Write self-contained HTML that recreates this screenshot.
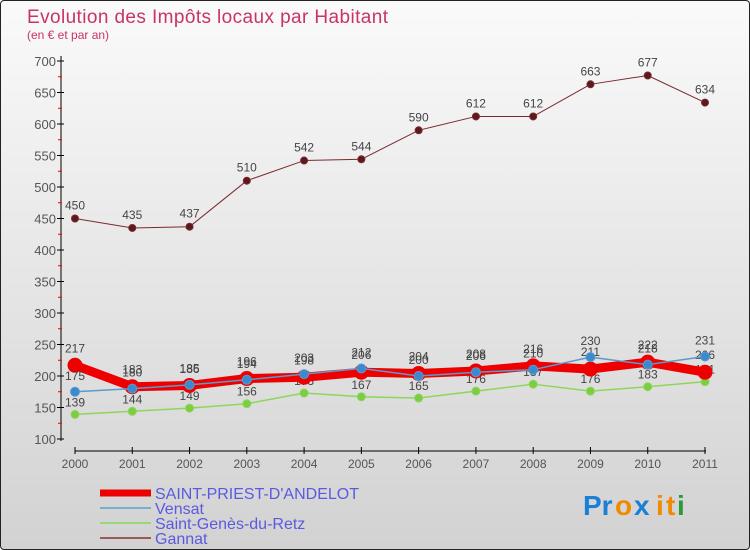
<!DOCTYPE html>
<html><head><meta charset="utf-8"><style>
body{margin:0;width:750px;height:550px;overflow:hidden;font-family:"Liberation Sans",sans-serif}
#wrap{position:absolute;left:0;top:0;width:748px;height:548px;border:1px solid #222;border-radius:4px;background:linear-gradient(#fafafa,#d2d2d2)}
</style></head><body>
<div id="wrap">
<svg id="chart" width="750" height="550" style="position:absolute;left:-1px;top:-1px">
<text x="27" y="23" font-size="19" fill="#c8336a" textLength="361">Evolution des Impôts locaux par Habitant</text>
<text x="27" y="39" font-size="12" fill="#c8336a">(en € et par an)</text>
<g id="axes"></g><g id="series"></g><g id="legend"></g>
<g font-size="28" font-weight="bold" font-family="Liberation Sans, sans-serif">
<text x="583" y="515" fill="#1a7fd6">Pr</text><text x="615" y="515" fill="#f08a00">o</text><text x="634" y="515" fill="#1a7fd6">x</text><text x="656" y="515" fill="#f08a00">i</text><text x="666" y="515" fill="#f08a00">t</text><text x="677" y="515" fill="#2a9a3a">i</text>
</g>
</svg></div>
<script>
const years=["2000","2001","2002","2003","2004","2005","2006","2007","2008","2009","2010","2011"];
const yTicks=[100,150,200,250,300,350,400,450,500,550,600,650,700];
const gannat=[450,435,437,510,542,544,590,612,612,663,677,634];
const saintPriest=[217,183,185,196,198,206,204,208,216,211,222,206];
const vensat=[175,180,186,194,203,212,200,206,210,230,218,231];
const saintGenes=[139,144,149,156,173,167,165,176,187,176,183,191];
const NS="http://www.w3.org/2000/svg";
const X=i=>75+i*(705-75)/(years.length-1);
const Y=v=>439-(v-100)*(439-61)/600;
function el(t,a,p){const e=document.createElementNS(NS,t);for(const k in a)e.setAttribute(k,a[k]);p.appendChild(e);return e;}
const ax=document.getElementById('axes');
let l=el('line',{x1:61,y1:56,x2:61,y2:441,stroke:'#000'},ax);


l=el('line',{x1:75,y1:451,x2:706,y2:451,stroke:'#000'},ax);


yTicks.forEach((v,i)=>{
 el('line',{x1:57,x2:64,y1:Y(v),y2:Y(v),stroke:'#000'},ax);
 if(i<yTicks.length-1)el('line',{x1:58,x2:62,y1:Y(v+25),y2:Y(v+25),stroke:'#e00'},ax);
 const t=el('text',{x:56,y:Y(v)+5,'text-anchor':'end','font-size':13,fill:'#555'},ax);t.textContent=v;
 
 
});
years.forEach((y,i)=>{
 el('line',{x1:X(i),x2:X(i),y1:447,y2:454,stroke:'#000'},ax);
 const t=el('text',{x:X(i),y:468,'text-anchor':'middle','font-size':12,fill:'#555'},ax);t.textContent=y;
 
 
});
const sg=document.getElementById('series');
function draw(data,name,color,w,r,fill,lblOff){
 const g=el('g',{},sg);
 
 
 el('polyline',{points:data.map((v,i)=>X(i)+','+Y(v)).join(' '),fill:'none',stroke:color,'stroke-width':w,'stroke-linejoin':'round'},g);
 data.forEach((v,i)=>{
  const c=el('circle',{cx:X(i),cy:Y(v),r:r,fill:fill,stroke:color,'stroke-width':1},g);
  
  
  const t=el('text',{x:X(i),y:Y(v)+lblOff,'text-anchor':'middle','font-size':12,fill:'#444'},g);t.textContent=v;
 });
}
draw(saintGenes,'saint-genes-du-retz','#8ed65a',1.5,4,'#7ccc44',-8);
draw(gannat,'gannat','#7a2a2e',1,3.5,'#5a1a1e',-9);
draw(saintPriest,'saint-priest-d-andelot','#ee0000',9,7,'#ee0000',-13);
draw(vensat,'vensat','#5a9acd',1.5,4.5,'#3a8ad0',-12);
const lg=document.getElementById('legend');
const items=[["SAINT-PRIEST-D'ANDELOT",'#ee0000',7,'legend-saint-priest'],["Vensat",'#7aaed0',2,'legend-vensat'],["Saint-Genès-du-Retz",'#9ad67a',2,'legend-saint-genes'],["Gannat",'#9a5a5a',2,'legend-gannat']];
items.forEach((it,i)=>{
 const yy=493+i*15;
 const g=el('g',{},lg);
 
 
 el('line',{x1:100,x2:151,y1:yy,y2:yy,stroke:it[1],'stroke-width':it[2]},g);
 const t=el('text',{x:155,y:yy+6,'font-size':16,fill:'#5a5ae0'},g);t.textContent=it[0];
});
</script>
</body></html>
